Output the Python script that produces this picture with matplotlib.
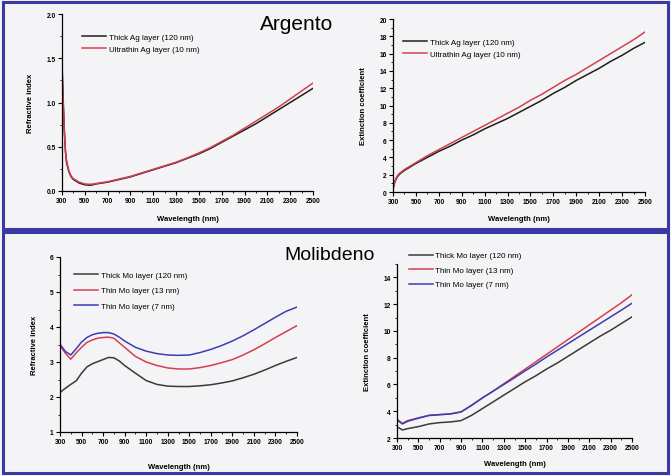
import numpy as np
import matplotlib.pyplot as plt
from matplotlib.patches import Rectangle
from matplotlib.ticker import MultipleLocator

plt.rcParams['font.family'] = ['Liberation Sans', 'DejaVu Sans']

# --- Argento (Ag) ---
wl_ag_n = [300, 310, 320, 330, 340, 360, 380, 400, 450, 500, 550, 600,
           700, 800, 900, 1000, 1100, 1200, 1300, 1400, 1500, 1600, 1700,
           1800, 1900, 2000, 2100, 2200, 2300, 2400, 2500]
n_ag_thick = [1.45, 1.05, 0.70, 0.45, 0.32, 0.22, 0.16, 0.13, 0.09, 0.07, 0.065, 0.08,
              0.10, 0.13, 0.16, 0.20, 0.24, 0.28, 0.32, 0.37, 0.42, 0.48, 0.55,
              0.62, 0.69, 0.76, 0.84, 0.92, 1.00, 1.08, 1.16]
n_ag_thin = [1.38, 1.00, 0.68, 0.46, 0.34, 0.23, 0.17, 0.14, 0.10, 0.08, 0.075, 0.085,
             0.105, 0.135, 0.165, 0.205, 0.245, 0.285, 0.325, 0.375, 0.43, 0.49, 0.56,
             0.63, 0.71, 0.79, 0.87, 0.95, 1.04, 1.13, 1.22]

wl_ag_k = [300, 310, 320, 340, 360, 400, 450, 500, 600, 700, 800, 900, 1000,
           1100, 1200, 1300, 1400, 1500, 1600, 1700, 1800, 1900, 2000, 2100,
           2200, 2300, 2400, 2500]
k_ag_thick = [0.3, 0.9, 1.3, 1.8, 2.1, 2.5, 2.9, 3.3, 4.0, 4.7, 5.3, 6.0, 6.6,
              7.3, 7.9, 8.5, 9.2, 9.9, 10.6, 11.4, 12.1, 12.9, 13.6, 14.3,
              15.1, 15.8, 16.6, 17.3]
k_ag_thin = [0.3, 1.0, 1.4, 1.9, 2.2, 2.6, 3.0, 3.4, 4.2, 4.9, 5.6, 6.3, 7.0,
             7.7, 8.4, 9.1, 9.8, 10.6, 11.3, 12.1, 12.9, 13.6, 14.4, 15.2,
             16.0, 16.8, 17.6, 18.5]
ag_labels = ['Thick Ag layer (120 nm)', 'Ultrathin Ag layer (10 nm)']

# --- Molibdeno (Mo) ---
wl_mo_n = [300, 350, 400, 450, 500, 550, 600, 650, 700, 750, 800, 850, 900,
           1000, 1100, 1200, 1300, 1400, 1500, 1600, 1700, 1800, 1900, 2000,
           2100, 2200, 2300, 2400, 2500]
n_mo_thick = [2.13, 2.25, 2.36, 2.46, 2.68, 2.86, 2.95, 3.01, 3.07, 3.13, 3.12, 3.03, 2.90,
              2.68, 2.47, 2.36, 2.31, 2.30, 2.30, 2.32, 2.35, 2.40, 2.46, 2.55,
              2.65, 2.77, 2.90, 3.02, 3.13]
n_mo_13 = [3.47, 3.25, 3.08, 3.26, 3.42, 3.56, 3.63, 3.68, 3.70, 3.71, 3.68, 3.55, 3.42,
           3.16, 3.00, 2.90, 2.83, 2.80, 2.80, 2.84, 2.90, 2.98, 3.07, 3.20,
           3.35, 3.52, 3.70, 3.87, 4.04]
n_mo_7 = [3.51, 3.30, 3.20, 3.38, 3.57, 3.70, 3.78, 3.82, 3.84, 3.84, 3.80, 3.71, 3.60,
          3.42, 3.31, 3.24, 3.20, 3.19, 3.20, 3.27, 3.36, 3.47, 3.60, 3.75,
          3.92, 4.10, 4.28, 4.45, 4.57]

wl_mo_k = [300, 350, 400, 500, 600, 700, 800, 900, 1000, 1100, 1200, 1300,
           1400, 1500, 1600, 1700, 1800, 1900, 2000, 2100, 2200, 2300, 2400, 2500]
k_mo_thick = [2.85, 2.60, 2.70, 2.85, 3.05, 3.15, 3.20, 3.30, 3.70, 4.20, 4.70, 5.20,
              5.70, 6.20, 6.65, 7.15, 7.60, 8.10, 8.60, 9.10, 9.60, 10.05, 10.55, 11.05]
k_mo_13 = [3.40, 3.10, 3.30, 3.50, 3.70, 3.75, 3.80, 3.95, 4.45, 5.00, 5.50, 6.05,
           6.60, 7.15, 7.70, 8.25, 8.80, 9.35, 9.90, 10.45, 11.00, 11.55, 12.10, 12.70]
k_mo_7 = [3.35, 3.05, 3.25, 3.48, 3.68, 3.74, 3.80, 3.95, 4.45, 5.00, 5.50, 6.00,
          6.50, 7.02, 7.52, 8.05, 8.55, 9.05, 9.55, 10.05, 10.55, 11.05, 11.55, 12.07]
mo_labels = ['Thick Mo layer (120 nm)', 'Thin Mo layer (13 nm)', 'Thin Mo layer (7 nm)']

x_ticks = list(range(300, 2501, 200))

BLACK = '#1e1e1e'
GREY = '#3a3a3a'
RED = '#d2404f'
BLUE = '#3c3cb4'
FRAME = '#3a3aa6'

fig = plt.figure(figsize=(6.71, 4.77), dpi=100)
fig.patch.set_facecolor('#f4f4f6')

# blue boxes around the two panels
for y0, h in [(3, 227), (233, 241)]:
    fig.patches.append(Rectangle((3 / 671, 1 - (y0 + h) / 477), 665 / 671, h / 477,
                                 transform=fig.transFigure, fill=False,
                                 edgecolor=FRAME, linewidth=2.2))


def px_axes(left, right, top, bottom):
    return fig.add_axes([left / 671, 1 - bottom / 477, (right - left) / 671, (bottom - top) / 477])


def style(ax, ylim, ymajor, yminor, ylabel, xpad):
    ax.set_facecolor('none')
    for s in ['top', 'right']:
        ax.spines[s].set_visible(False)
    for s in ['left', 'bottom']:
        ax.spines[s].set_linewidth(0.9)
    ax.set_xlim(300, 2500)
    ax.set_xticks(x_ticks)
    ax.xaxis.set_minor_locator(MultipleLocator(100))
    ax.set_ylim(*ylim)
    ax.yaxis.set_major_locator(MultipleLocator(ymajor))
    ax.yaxis.set_minor_locator(MultipleLocator(yminor))
    ax.tick_params(which='major', length=3, width=0.8, labelsize=4.8, pad=1.5)
    ax.tick_params(which='minor', length=1.6, width=0.6)
    for lab in ax.get_xticklabels() + ax.get_yticklabels():
        lab.set_fontweight('bold')
    ax.set_xlabel('Wavelength (nm)', fontsize=5.5, fontweight='bold', labelpad=xpad)
    ax.set_ylabel(ylabel, fontsize=5.5, fontweight='bold', labelpad=9)


def legend(ax, x, y, spacing):
    ax.legend(loc='upper left', bbox_to_anchor=(x, y), frameon=False, fontsize=5.8,
              handlelength=3.0, handletextpad=0.3, labelspacing=spacing,
              borderpad=0, borderaxespad=0)


# top-left: Ag refractive index
ax1 = px_axes(62, 313, 15, 192)
ax1.plot(wl_ag_n, n_ag_thick, color=BLACK, lw=1.1, label=ag_labels[0])
ax1.plot(wl_ag_n, n_ag_thin, color=RED, lw=1.1, label=ag_labels[1])
style(ax1, (0, 2.0), 0.5, 0.25, 'Refractive index', 8)
ax1.yaxis.set_major_formatter(lambda v, p: f'{v:.1f}')
legend(ax1, 0.08, 0.89, 0.55)

# top-right: Ag extinction coefficient
ax2 = px_axes(393, 645, 20, 193)
ax2.plot(wl_ag_k, k_ag_thick, color=BLACK, lw=1.1, label=ag_labels[0])
ax2.plot(wl_ag_k, k_ag_thin, color=RED, lw=1.1, label=ag_labels[1])
style(ax2, (0, 20), 2, 1, 'Extinction coefficient', 7)
legend(ax2, 0.04, 0.89, 0.55)

# bottom-left: Mo refractive index
ax3 = px_axes(60, 297, 258, 433)
ax3.plot(wl_mo_n, n_mo_thick, color=GREY, lw=1.1, label=mo_labels[0])
ax3.plot(wl_mo_n, n_mo_13, color=RED, lw=1.1, label=mo_labels[1])
ax3.plot(wl_mo_n, n_mo_7, color=BLUE, lw=1.1, label=mo_labels[2])
style(ax3, (1, 6), 1, 0.5, 'Refractive index', 13)
legend(ax3, 0.06, 0.92, 1.0)

# bottom-right: Mo extinction coefficient
ax4 = px_axes(397, 632, 265, 439)
ax4.plot(wl_mo_k, k_mo_thick, color=GREY, lw=1.1, label=mo_labels[0])
ax4.plot(wl_mo_k, k_mo_13, color=RED, lw=1.1, label=mo_labels[1])
ax4.plot(wl_mo_k, k_mo_7, color=BLUE, lw=1.1, label=mo_labels[2])
style(ax4, (2, 15), 2, 1, 'Extinction coefficient', 6)
legend(ax4, 0.05, 1.07, 0.85)

fig.text(297 / 671, 1 - 24 / 477, 'Argento', ha='center', va='center', fontsize=15)
fig.text(330 / 671, 1 - 256 / 477, 'Molibdeno', ha='center', va='center', fontsize=14)

fig.savefig('out.png', dpi=100, facecolor=fig.get_facecolor())
